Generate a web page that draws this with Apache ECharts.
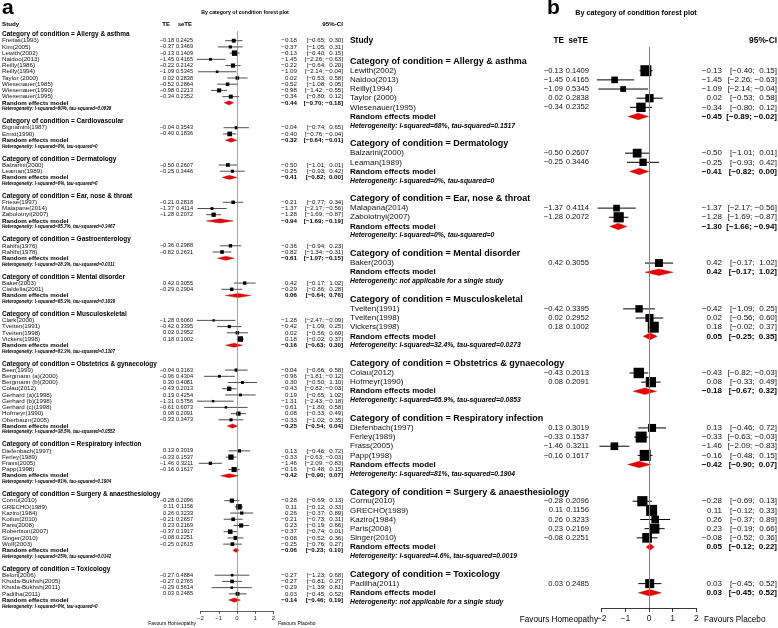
<!DOCTYPE html>
<html><head><meta charset="utf-8">
<script src="https://cdn.jsdelivr.net/npm/echarts@6/dist/echarts.min.js"></script>
<style>html,body{margin:0;padding:0;background:#fff}#c{width:778px;height:628px}</style>
</head><body><div id="c"></div>
<script>
// ---------- Panel a data ----------
const catA = ['Allergy & asthma','Cardiovascular','Dermatology','Ear, nose & throat','Gastroenterology','Mental disorder','Musculoskeletal','Obstetrics & gynaecology','Respiratory infection','Surgery & anaesthesiology','Toxicology'];
const studyA = ['Freitas(1993)','Kim(2005)','Lewith(2002)','Naidoo(2013)','Reilly(1986)','Reilly(1994)','Taylor (2000)','Wiesenauer(1985)','Wiesenauer(1990)','Wiesenauer(1995)',
 'Bignamini(1987)','Ernst(1990)',
 'Balzarini(2000)','Leaman(1989)',
 'Friese(1997)','Malapane(2014)','Zabolotnyi(2007)',
 'Rahlfs(1976)','Rahlfs(1978)',
 'Baker(2003)','Cialdella(2001)',
 'Clark(2000)','Tveiten(1991)','Tveiten(1998)','Vickers(1998)',
 'Beer(1999)','Bergmann (a)(2000)','Bergmann (b)(2000)','Colau(2012)','Gerhard (a)(1998)','Gerhard (b)(1998)','Gerhard (c)(1998)','Hofmeyr(1990)','Oberbaum(2005)',
 'Diefenbach(1997)','Ferley(1989)','Frass(2005)','Papp(1998)',
 'Cornu(2010)','GRECHO(1989)','Kaziro(1984)','Kotlus(2010)','Paris(2008)','Robertson(2007)','Singer(2010)','Wolf(2003)',
 'Belon(2006)','Khuda-Bukhsh(2005)','Khuda-Bukhsh(2011)','Padilha(2011)'];
const groupA = [0,0,0,0,0,0,0,0,0,0, 1,1, 2,2, 3,3,3, 4,4, 5,5, 6,6,6,6, 7,7,7,7,7,7,7,7,7, 8,8,8,8, 9,9,9,9,9,9,9,9, 10,10,10,10];
const teA = [-0.18,-0.37,-0.13,-1.45,-0.22,-1.09,0.02,-0.52,-0.98,-0.34, -0.04,-0.40, -0.50,-0.25, -0.21,-1.37,-1.28, -0.36,-0.82, 0.42,-0.29, -1.28,-0.42,0.02,0.18, -0.04,-0.96,0.30,-0.43,0.19,-1.31,-0.61,0.08,-0.33, 0.13,-0.33,-1.46,-0.16, -0.28,0.11,0.26,-0.21,0.23,-0.37,-0.08,-0.25, -0.27,-0.27,-0.29,0.03];
const seA = [0.2425,0.3469,0.1409,0.4165,0.2142,0.5345,0.2838,0.2864,0.2213,0.2352, 0.3543,0.1836, 0.2607,0.3446, 0.2818,0.4114,0.2072, 0.2988,0.2631, 0.3055,0.2904, 0.6060,0.3395,0.2952,0.1002, 0.3163,0.4304,0.4081,0.2013,0.4254,0.5756,0.6073,0.2091,0.3473, 0.3019,0.1537,0.3211,0.1617, 0.2096,0.1156,0.3233,0.2657,0.2169,0.1917,0.2251,0.2615, 0.4884,0.2765,0.5614,0.2485];
const loA = [-0.65,-1.05,-0.40,-2.26,-0.64,-2.14,-0.53,-1.08,-1.42,-0.80, -0.74,-0.76, -1.01,-0.93, -0.77,-2.17,-1.69, -0.94,-1.34, -0.17,-0.86, -2.47,-1.09,-0.56,-0.02, -0.66,-1.81,-0.50,-0.82,-0.65,-2.43,-1.80,-0.33,-1.02, -0.46,-0.63,-2.09,-0.48, -0.69,-0.12,-0.37,-0.73,-0.19,-0.74,-0.52,-0.76, -1.23,-0.81,-1.39,-0.45];
const hiA = [0.30,0.31,0.15,-0.63,0.20,-0.04,0.58,0.05,-0.55,0.12, 0.65,-0.04, 0.01,0.42, 0.34,-0.56,-0.87, 0.23,-0.31, 1.02,0.28, -0.09,0.25,0.60,0.37, 0.58,-0.12,1.10,-0.03,1.02,-0.18,0.58,0.49,0.35, 0.72,-0.03,-0.83,0.15, 0.13,0.33,0.89,0.31,0.66,0.01,0.36,0.27, 0.68,0.27,0.81,0.52];
const reTeA = [-0.44,-0.32,-0.41,-0.94,-0.61,0.06,-0.16,-0.25,-0.42,-0.06,-0.14];
const reLoA = [-0.70,-0.64,-0.82,-1.69,-1.07,-0.64,-0.63,-0.54,-0.90,-0.23,-0.46];
const reHiA = [-0.18,-0.01,0.00,-0.19,-0.15,0.76,0.30,0.04,0.07,0.10,0.19];
const hetA = ['I-squared=80%, tau-squared=0.0838','I-squared=0%, tau-squared=0','I-squared=0%, tau-squared=0','I-squared=85.7%, tau-squared=0.3467','I-squared=28.3%, tau-squared=0.0311','I-squared=65.3%, tau-squared=0.1639','I-squared=83.3%, tau-squared=0.1307','I-squared=38.5%, tau-squared=0.0552','I-squared=81%, tau-squared=0.1904','I-squared=25%, tau-squared=0.0142','I-squared=0%, tau-squared=0'];

// ---------- Panel b data ----------
const catB = ['Allergy & asthma','Dermatology','Ear, nose & throat','Mental disorder','Musculoskeletal','Obstetrics & gynaecology','Respiratory infection','Surgery & anaesthesiology','Toxicology'];
const studyB = ['Lewith(2002)','Naidoo(2013)','Reilly(1994)','Taylor (2000)','Wiesenauer(1995)',
 'Balzarini(2000)','Leaman(1989)',
 'Malapana(2014)','Zabolotnyi(2007)',
 'Baker(2003)',
 'Tveiten(1991)','Tveiten(1998)','Vickers(1998)',
 'Colau(2012)','Hofmeyr(1990)',
 'Diefenbach(1997)','Ferley(1989)','Frass(2005)','Papp(1998)',
 'Cornu(2010)','GRECHO(1989)','Kaziro(1984)','Paris(2008)','Singer(2010)',
 'Padilha(2011)'];
const groupB = [0,0,0,0,0, 1,1, 2,2, 3, 4,4,4, 5,5, 6,6,6,6, 7,7,7,7,7, 8];
const teB = [-0.13,-1.45,-1.09,0.02,-0.34, -0.50,-0.25, -1.37,-1.28, 0.42, -0.42,0.02,0.18, -0.43,0.08, 0.13,-0.33,-1.46,-0.16, -0.28,0.11,0.26,0.23,-0.08, 0.03];
const seB = [0.1409,0.4165,0.5345,0.2838,0.2352, 0.2607,0.3446, 0.4114,0.2072, 0.3055, 0.3395,0.2952,0.1002, 0.2013,0.2091, 0.3019,0.1537,0.3211,0.1617, 0.2096,0.1156,0.3233,0.2169,0.2251, 0.2485];
const loB = [-0.40,-2.26,-2.14,-0.53,-0.80, -1.01,-0.93, -2.17,-1.69, -0.17, -1.09,-0.56,-0.02, -0.82,-0.33, -0.46,-0.63,-2.09,-0.48, -0.69,-0.12,-0.37,-0.19,-0.52, -0.45];
const hiB = [0.15,-0.63,-0.04,0.58,0.12, 0.01,0.42, -0.56,-0.87, 1.02, 0.25,0.60,0.37, -0.03,0.49, 0.72,-0.03,-0.83,0.15, 0.13,0.33,0.89,0.66,0.36, 0.52];
const reTeB = [-0.45,-0.41,-1.30,0.42,0.05,-0.18,-0.42,0.05,0.03];
const reLoB = [-0.89,-0.82,-1.66,-0.17,-0.25,-0.67,-0.90,-0.12,-0.45];
const reHiB = [-0.02,0.00,-0.94,1.02,0.35,0.32,0.07,0.22,0.52];
const hetB = ['I-squared=68%, tau-squared=0.1517','I-squared=0%, tau-squared=0','I-squared=0%, tau-squared=0','not applicable for a single study','I-squared=32.4%, tau-squared=0.0273','I-squared=65.9%, tau-squared=0.0853','I-squared=81%, tau-squared=0.1904','I-squared=4.6%, tau-squared=0.0019','not applicable for a single study'];

const xTicks = [-2,-1,0,1,2];

// ---------- build row lists ----------
function buildRows(cats, names, grp, te, se, lo, hi, rTe, rLo, rHi, het) {
  const rows = []; let r = 0;
  cats.forEach((c, g) => {
    rows.push({t:'cat', r:r++, text:'Category of condition = ' + c});
    names.forEach((n, i) => { if (grp[i] === g) rows.push({t:'study', r:r++, name:n, te:te[i], se:se[i], lo:lo[i], hi:hi[i]}); });
    rows.push({t:'re', r:r++, te:rTe[g], lo:rLo[g], hi:rHi[g]});
    rows.push({t:'het', r:r++, text:'Heterogeneity: ' + het[g]});
    r++;
  });
  return rows;
}
const rowsA = buildRows(catA, studyA, groupA, teA, seA, loA, hiA, reTeA, reLoA, reHiA, hetA);
const rowsB = buildRows(catB, studyB, groupB, teB, seB, loB, hiB, reTeB, reLoB, reHiB, hetB);

const FAM = '"Liberation Sans", Arial, Helvetica, sans-serif';
const num = v => (v < 0 ? '\u2212' : '') + Math.abs(v).toFixed(2);
const ci = (lo, hi) => '[' + num(lo) + ';' + (hi < 0 ? ' ' : '  ') + num(hi) + ']';

const LA = {x0:2, te:174, se:193, ciEst:297, ciR:343, fMain:6.2, fNum:5.6, fCat:6.5, fHet:4.5, dia:2.1, lw:0.7,
  sq: s => Math.min(5.5, 1.4 + 0.6 / s)};
const LB = {x0:350, te:563, se:589, ciEst:722, ciR:777, fMain:8, fNum:7.6, fCat:9, fHet:6.8, dia:3.3, lw:1,
  sq: s => Math.min(11, 3 + 1.5 / s)};

function makeRender(rows, L) {
  return function (params, api) {
    const o = rows[params.dataIndex];
    const y = api.coord([0, o.r])[1];
    const ch = [];
    const T = (text, x, align, font, fill) => ch.push({type:'text', silent:true, style:{
      text, x, y, font, fill: fill || '#000', align, textAlign: align, verticalAlign:'middle', textVerticalAlign:'middle'}});
    const reg = L.fMain + 'px ' + FAM, bold = 'bold ' + L.fMain + 'px ' + FAM, nf = L.fNum + 'px ' + FAM;
    if (o.t === 'cat') T(o.text, L.x0, 'left', 'bold ' + L.fCat + 'px ' + FAM);
    else if (o.t === 'het') T(o.text, L.x0, 'left', 'italic bold ' + L.fHet + 'px ' + FAM);
    else if (o.t === 'study') {
      T(o.name, L.x0, 'left', reg, '#111');
      T(num(o.te), L.te, 'right', nf, '#111');
      T(o.se.toFixed(4), L.se, 'right', nf, '#111');
      const p1 = api.coord([Math.max(o.lo, -2.2), o.r]), p2 = api.coord([Math.min(o.hi, 2.2), o.r]);
      ch.push({type:'line', shape:{x1:p1[0], y1:y, x2:p2[0], y2:y}, style:{stroke:'#000', lineWidth:L.lw}});
      const c = api.coord([o.te, o.r]), s = L.sq(o.se);
      ch.push({type:'rect', shape:{x:c[0]-s/2, y:y-s/2, width:s, height:s}, style:{fill:'#000'}});
      T(num(o.te), L.ciEst, 'right', reg, '#111');
      T(ci(o.lo, o.hi), L.ciR, 'right', reg, '#111');
    } else if (o.t === 're') {
      T('Random effects model', L.x0, 'left', bold);
      const a = api.coord([o.lo, o.r])[0], m = api.coord([o.te, o.r])[0], b = api.coord([o.hi, o.r])[0];
      ch.push({type:'polygon', shape:{points:[[a,y],[m,y-L.dia],[b,y],[m,y+L.dia]]}, style:{fill:'#ee0000', stroke:'#9a1a1a', lineWidth:0.4}});
      T(num(o.te), L.ciEst, 'right', bold);
      T(ci(o.lo, o.hi), L.ciR, 'right', bold);
    }
    return {type:'group', children:ch};
  };
}

function xAxisCfg(gi, fs, margin, lw, tick) {
  return {gridIndex:gi, type:'value', min:xTicks[0], max:xTicks[xTicks.length-1], interval:1,
    axisLine:{show:true, onZero:false, lineStyle:{color:'#222', width:lw}},
    axisTick:{show:true, length:tick, lineStyle:{color:'#222', width:lw}},
    axisLabel:{fontSize:fs, fontFamily:FAM, color:'#222', margin, formatter: v => (v < 0 ? '\u2212' : '') + Math.abs(v)},
    splitLine:{show:false}};
}
function seriesCfg(idx, rows, L, lw) {
  return {type:'custom', xAxisIndex:idx, yAxisIndex:idx, clip:false, silent:true,
    data: rows.map(o => [o.te !== undefined ? o.te : 0, o.r]), encode:{x:0, y:1},
    renderItem: makeRender(rows, L),
    markLine:{silent:true, symbol:'none', label:{show:false}, animation:false,
      lineStyle:{color:'#808080', width:lw, type:'solid'}, data:[{xAxis:0}]}};
}

const gt = (text, x, y, font, align) => ({type:'text', silent:true, style:{text, x, y, font, fill:'#000', align, textAlign:align, verticalAlign:'middle', textVerticalAlign:'middle'}});

const chart = echarts.init(document.getElementById('c'));
chart.setOption({
  animation:false,
  backgroundColor:'#fff',
  grid:[{left:200.5, width:73, top:31, height:580},
        {left:601.6, width:94.8, top:47, height:561}],
  xAxis:[xAxisCfg(0, 6, 4, 0.7, 3), xAxisCfg(1, 8.5, 6, 0.9, 4)],
  yAxis:[{gridIndex:0, type:'value', min:-0.56, max:92.76, inverse:true, show:false},
         {gridIndex:1, type:'value', min:-1.59, max:59.66, inverse:true, show:false}],
  series:[seriesCfg(0, rowsA, LA, 0.7), seriesCfg(1, rowsB, LB, 1)],
  graphic:{elements:[
    gt('a', 2, 8, 'bold 21px ' + FAM, 'left'),
    gt('By category of condition forest plot', 245, 13, 'bold 5.2px ' + FAM, 'center'),
    gt('Study', 2, 24, 'bold 6.2px ' + FAM, 'left'),
    gt('TE', 170, 24, 'bold 6px ' + FAM, 'right'),
    gt('seTE', 192, 24, 'bold 6px ' + FAM, 'right'),
    gt('95%-CI', 343, 24, 'bold 6.2px ' + FAM, 'right'),
    gt('Favours Homeopathy', 196, 624, '5px ' + FAM, 'right'),
    gt('Favours Placebo', 278, 624, '5px ' + FAM, 'left'),
    gt('b', 547, 8, 'bold 21px ' + FAM, 'left'),
    gt('By category of condition forest plot', 636, 13, 'bold 7.2px ' + FAM, 'center'),
    gt('Study', 350, 41, 'bold 8.4px ' + FAM, 'left'),
    gt('TE', 564, 41, 'bold 8.2px ' + FAM, 'right'),
    gt('seTE', 588, 41, 'bold 8.2px ' + FAM, 'right'),
    gt('95%-CI', 777, 41, 'bold 8.4px ' + FAM, 'right'),
    gt('Favours Homeopathy', 598, 620, '8.2px ' + FAM, 'right'),
    gt('Favours Placebo', 704, 620, '8.2px ' + FAM, 'left')
  ]}
});
</script></body></html>
